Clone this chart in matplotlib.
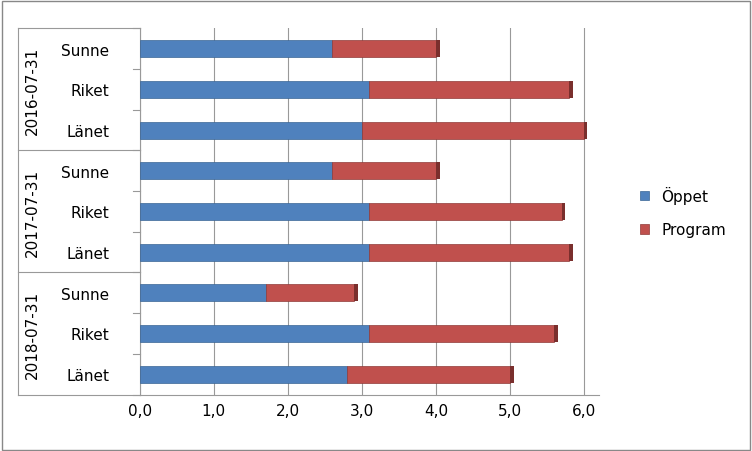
import matplotlib
matplotlib.use("Agg")
import matplotlib.pyplot as plt
from matplotlib.patches import Rectangle

# rows bottom to top
categories = ["Länet", "Riket", "Sunne", "Länet", "Riket", "Sunne", "Länet", "Riket", "Sunne"]
groups = ["2018-07-31", "2017-07-31", "2016-07-31"]
oppet = [2.8, 3.1, 1.7, 3.1, 3.1, 2.6, 3.0, 3.1, 2.6]
program = [2.2, 2.5, 1.2, 2.7, 2.6, 1.4, 3.0, 2.7, 1.4]
ticks = [0, 1, 2, 3, 4, 5, 6]
tick_labels = ["0,0", "1,0", "2,0", "3,0", "4,0", "5,0", "6,0"]

blue, red = "#4f81bd", "#c0504d"
fig = plt.figure(figsize=(7.52, 4.52), dpi=100)
fig.patches.append(Rectangle((0.002, 0.003), 0.995, 0.993, transform=fig.transFigure,
                             fill=False, edgecolor="#888888", lw=1))
ax = fig.add_axes([0.186, 0.125, 0.61, 0.81])
y = range(len(categories))
ax.barh(y, oppet, height=0.42, color=blue, edgecolor="#3a6595", lw=0.5, label="Öppet", zorder=3)
ax.barh(y, program, left=oppet, height=0.42, color=red, edgecolor="#8f3a38", lw=0.5,
        label="Program", zorder=3)
# darker end caps for a bit of depth
for i in y:
    ax.barh(i, 0.05, left=oppet[i] + program[i], height=0.42, color="#7a2f2d", zorder=3)
ax.set_xlim(0, 6.2)
ax.set_ylim(-0.5, len(categories) - 0.5)
ax.set_xticks(ticks)
ax.set_xticklabels(tick_labels, fontsize=11)
ax.xaxis.grid(True, color="#999999", lw=0.8, zorder=0)
ax.set_yticks(list(y))
ax.set_yticklabels(categories, fontsize=11)
ax.tick_params(axis="y", length=0, pad=22)
ax.tick_params(axis="x", length=0, pad=6)
for s in ["top", "right"]:
    ax.spines[s].set_visible(False)
ax.spines["left"].set_color("#999999")
ax.spines["bottom"].set_color("#999999")

# group labels and separators
for g, name in enumerate(groups):
    ax.text(-0.235, (3 * g + 1.5) / 9, name, transform=ax.transAxes, rotation=90,
            ha="center", va="center", fontsize=11)
for k in range(4):
    ax.plot([-0.266, 0], [k / 3, k / 3], transform=ax.transAxes, color="#999999",
            lw=0.8, clip_on=False)
ax.plot([-0.266, -0.266], [0, 1], transform=ax.transAxes, color="#999999", lw=0.8, clip_on=False)
for k in range(10):
    ax.plot([-0.015, 0], [k / 9, k / 9], transform=ax.transAxes, color="#999999",
            lw=0.8, clip_on=False)

ax.legend(loc="center left", bbox_to_anchor=(1.06, 0.5), frameon=False, fontsize=11,
          handlelength=0.6, handleheight=0.6, labelspacing=1.2)
fig.savefig("out.png", dpi=100)
